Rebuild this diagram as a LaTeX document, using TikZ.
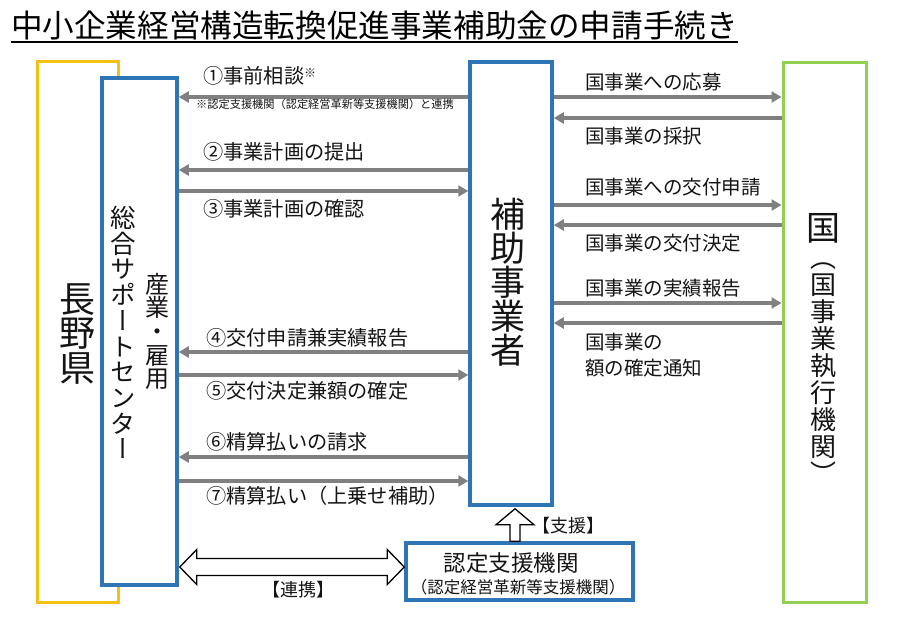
\documentclass[tikz,border=0pt]{standalone}
\usepackage{fontspec}
\setmainfont{Noto Sans CJK JP}
\newfontfamily\vjp[RawFeature=+vert]{Noto Sans CJK JP}
\usetikzlibrary{arrows.meta,calc}
\definecolor{kyellow}{RGB}{245,192,20}
\definecolor{kblue}{RGB}{46,117,182}
\definecolor{kgreen}{RGB}{146,208,80}
\definecolor{agray}{RGB}{128,128,128}
\definecolor{txt}{RGB}{20,20,20}
\tikzset{
  box/.style={draw, fill=white, inner sep=0pt},
  lbl/.style={anchor=west, inner sep=0pt, text=txt, font=\fontsize{19.5}{22}\selectfont},
  llbl/.style={lbl, font=\fontsize{20.2}{22}\selectfont},
  vtxt/.style={inner sep=0pt, align=center, text=txt},
  garrow/.style={draw=agray, line width=3.5pt, -{Triangle[length=10pt,width=11pt]}},
  hollow/.style={draw=black, line width=1.3pt, fill=white, line join=miter},
}
\begin{document}
\begin{tikzpicture}[x=1pt,y=-1pt]
\useasboundingbox (0,0) rectangle (900,624);
% title
\node[anchor=west, inner sep=0pt, text=black, font=\fontsize{31.6}{34}\selectfont] (title) at (11,25) {中小企業経営構造転換促進事業補助金の申請手続き};
\draw[line width=2pt] (title.west |- 0,42) -- (title.east |- 0,42);
% boxes
\node[box, draw=kyellow, line width=3pt, minimum width=81pt, minimum height=541pt] (ken) at (77.5,331.5) {};
\node[box, draw=kblue, line width=3.5pt, minimum width=75pt, minimum height=507pt] (sc) at (139.5,331.5) {};
\node[box, draw=kblue, line width=3.5pt, minimum width=82pt, minimum height=443pt] (mid) at (511,283.5) {};
\node[box, draw=kgreen, line width=3pt, minimum width=83pt, minimum height=540pt] (kuni) at (824.5,332) {};
\node[box, draw=kblue, line width=3.5pt, minimum width=227pt, minimum height=57pt] (bot) at (519.5,571.5) {};
% vertical texts
\node[vtxt, font=\fontsize{36}{34.5}\selectfont] (kent) at (77,334) {長\\野\\県};
\node[vtxt, font=\vjp\fontsize{25.5}{25.7}\selectfont] (sct1) at (123,332.5) {総\\合\\サ\\ポ\\ー\\ト\\セ\\ン\\タ\\ー};
\node[vtxt, font=\vjp\fontsize{24}{23.7}\selectfont] (sct2) at (157,331.5) {産\\業\\・\\雇\\用};
\node[vtxt, font=\fontsize{35}{34}\selectfont] (midt) at (508,282.5) {補\\助\\事\\業\\者};
\node[vtxt, anchor=north, font=\vjp\fontsize{26}{27}\selectfont] (kunit) at (823,213) {{\fontsize{34}{34}\selectfont 国}\\（\\国\\事\\業\\執\\行\\機\\関\\）};
\node[vtxt, font=\fontsize{22.5}{24}\selectfont] (bott1) at (511,563) {認定支援機関};
\node[vtxt, font=\fontsize{16.5}{18}\selectfont] (bott2) at (518,587) {（認定経営革新等支援機関）};
% left arrows
\draw[garrow] (mid.west |- 0,97) -- (sc.east |- 0,97);
\draw[garrow] (mid.west |- 0,170) -- (sc.east |- 0,170);
\draw[garrow] (sc.east |- 0,191) -- (mid.west |- 0,191);
\draw[garrow] (mid.west |- 0,352) -- (sc.east |- 0,352);
\draw[garrow] (sc.east |- 0,375) -- (mid.west |- 0,375);
\draw[garrow] (mid.west |- 0,457) -- (sc.east |- 0,457);
\draw[garrow] (sc.east |- 0,481) -- (mid.west |- 0,481);
\node[llbl] (l1) at (203,76) {①事前相談\raisebox{6pt}{\fontsize{12}{12}\selectfont ※}};
\node[lbl, font=\fontsize{11.2}{13}\selectfont] (note) at (196,104) {※認定支援機関（認定経営革新等支援機関）と連携};
\node[llbl] (l2) at (203,152) {②事業計画の提出};
\node[llbl] (l3) at (203,209) {③事業計画の確認};
\node[llbl] (l4) at (206,338) {④交付申請兼実績報告};
\node[llbl] (l5) at (206,391) {⑤交付決定兼額の確定};
\node[llbl] (l6) at (206,442) {⑥精算払いの請求};
\node[llbl] (l7) at (206,496) {⑦精算払い（上乗せ補助）};
% right arrows
\draw[garrow] (mid.east |- 0,97) -- (kuni.west |- 0,97);
\draw[garrow] (kuni.west |- 0,118) -- (mid.east |- 0,118);
\draw[garrow] (mid.east |- 0,205) -- (kuni.west |- 0,205);
\draw[garrow] (kuni.west |- 0,225) -- (mid.east |- 0,225);
\draw[garrow] (mid.east |- 0,303) -- (kuni.west |- 0,303);
\draw[garrow] (kuni.west |- 0,323) -- (mid.east |- 0,323);
\node[lbl] (r1) at (585,82) {国事業への応募};
\node[lbl] (r2) at (585,136) {国事業の採択};
\node[lbl] (r3) at (585,187) {国事業への交付申請};
\node[lbl] (r4) at (585,243) {国事業の交付決定};
\node[lbl] (r5) at (585,288) {国事業の実績報告};
\node[lbl, align=left, font=\fontsize{19.5}{26}\selectfont] (r6) at (585,355) {国事業の\\額の確定通知};
% hollow double arrow
\coordinate (dl) at ($(sc.east |- 0,567)+(1,0)$);
\coordinate (dr) at (bot.west |- dl);
\draw[hollow] (dl) -- ++(17,-17.5) -- ++(0,9) -- ($(dr)+(-17,-8.5)$) -- ++(0,-9) -- (dr) -- ++(-17,17.5) -- ++(0,-9) -- ($(dl)+(17,8.5)$) -- ++(0,9) -- cycle;
\node[vtxt, font=\fontsize{18}{20}\selectfont] (renkei) at (298,590) {【連携】};
% hollow up arrow
\coordinate (ub) at (bot.north -| 515,0);
\coordinate (ut) at ($(mid.south -| 515,0)+(0,2)$);
\draw[hollow] (ut) -- ++(19,16) -- ++(-14,0) -- ($(ub)+(5,0)$) -- ++(-10,0) -- ($(ut)+(-5,16)$) -- ++(-14,0) -- cycle;
\node[lbl, font=\fontsize{18}{20}\selectfont] (shien) at (532,526) {【支援】};
\end{tikzpicture}
\end{document}
